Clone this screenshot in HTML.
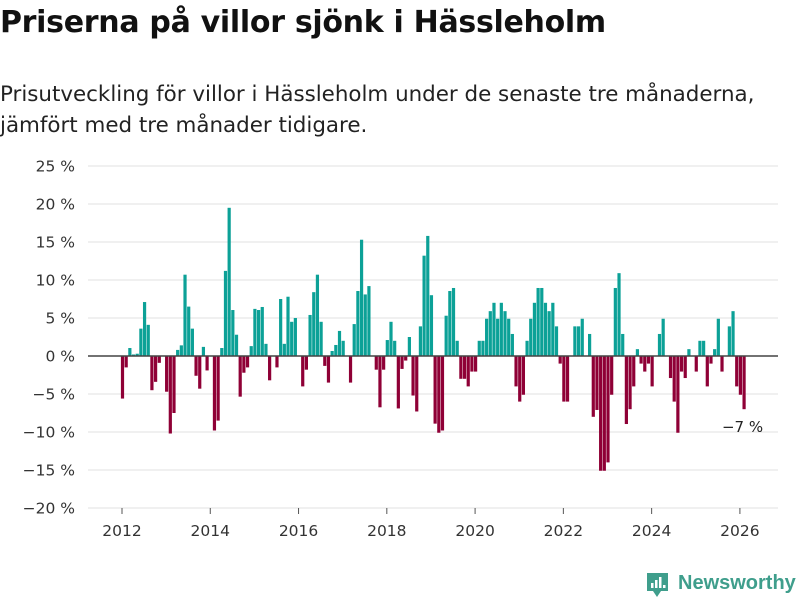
<!DOCTYPE html>
<html><head><meta charset="utf-8">
<style>
body{margin:0;width:800px;height:600px;background:#fff;font-family:"Liberation Sans",sans-serif;overflow:hidden;position:relative}
h1{position:absolute;left:0;top:5px;margin:0;font-family:"DejaVu Sans",sans-serif;font-size:30px;font-weight:bold;color:#111;letter-spacing:-0.3px}
.sub{position:absolute;left:0;top:79px;margin:0;font-family:"DejaVu Sans",sans-serif;font-size:21.4px;line-height:31px;color:#222}
svg{position:absolute;left:0;top:0}
</style></head>
<body>
<h1>Priserna på villor sjönk i Hässleholm</h1>
<p class="sub">Prisutveckling för villor i Hässleholm under de senaste tre månaderna,<br>jämfört med tre månader tidigare.</p>
<svg id="chart" width="800" height="600"></svg>
<script>
const startYear = 2012;
const values = [-5.6,-1.5,1.05,0.2,0.3,3.6,7.1,4.1,-4.5,-3.4,-0.9,0,-4.7,-10.2,-7.5,0.8,1.4,10.7,6.5,3.6,-2.6,-4.3,1.2,-1.9,0,-9.8,-8.5,1.05,11.2,19.5,6.05,2.8,-5.35,-2.2,-1.5,1.3,6.2,6.05,6.45,1.6,-3.2,0,-1.5,7.5,1.6,7.8,4.5,5.0,0,-4.0,-1.8,5.4,8.4,10.7,4.5,-1.3,-3.5,0.66,1.45,3.3,2.0,0,-3.5,4.2,8.55,15.3,8.1,9.2,0,-1.8,-6.75,-1.8,2.1,4.5,2.0,-6.9,-1.7,-0.6,2.5,-5.2,-7.3,3.9,13.2,15.8,8.0,-8.9,-10.1,-9.8,5.3,8.55,8.95,2.0,-3.0,-3.0,-4.0,-2.05,-2.05,2.0,2.0,4.9,5.9,7.0,4.9,7.0,5.9,4.9,2.9,-4.0,-6.0,-5.1,2.0,4.9,7.0,8.95,8.95,7.0,5.9,7.0,3.9,-1.0,-6.0,-6.0,0,3.9,3.9,4.9,0,2.9,-8.0,-7.1,-15.1,-15.1,-14.0,-5.1,8.95,10.9,2.9,-8.95,-7.0,-4.0,0.9,-1.0,-2.05,-1.0,-4.0,0,2.9,4.9,0,-2.9,-6.0,-10.1,-2.05,-2.9,0.9,0,-2.05,2.0,2.0,-4.0,-1.0,0.9,4.9,-2.05,0,3.9,5.9,-4.0,-5.1,-7.0];
const yTicks = [25,20,15,10,5,0,-5,-10,-15,-20];
const xTickYears = [2012,2014,2016,2018,2020,2022,2024,2026];
const lastLabel = "−7 %";

const NS="http://www.w3.org/2000/svg";
const svg=document.getElementById('chart');
const y0px=356, pxPer=7.6;
const y=v=>y0px-v*pxPer;
const x0=122.5, step=3.678;
const xIdx=i=>x0+i*step;
const xYear=yr=>x0-0.5+(yr-startYear)*12*step;
function mk(t,a){const e=document.createElementNS(NS,t);for(const k in a)e.setAttribute(k,a[k]);svg.appendChild(e);return e;}

yTicks.forEach(t=>{
  const g=mk('line',{x1:88,x2:778,y1:y(t),y2:y(t),stroke:'#e0e0e0','stroke-width':1});
  
  
  const l=mk('text',{x:75,y:y(t)+5.5,'text-anchor':'end','font-size':15.5,fill:'#333','font-family':'DejaVu Sans, sans-serif'});
  l.textContent=(t<0?'−'+(-t):t)+' %';
  
  
});
values.forEach((v,i)=>{
  if(v===0)return;
  const top=Math.min(y(v),y0px),h=Math.abs(y(v)-y0px);
  const b=mk('rect',{x:xIdx(i)-1.6,y:top,width:3.2,height:h,fill:v>0?'#0ca197':'#8f0036'});
  
  
});
const z=mk('line',{x1:88,x2:778,y1:y0px,y2:y0px,stroke:'#444','stroke-width':1.6});


xTickYears.forEach(yr=>{
  const xx=xYear(yr);
  const tk=mk('line',{x1:xx,x2:xx,y1:508,y2:514,stroke:'#555','stroke-width':1});
  
  
  const l=mk('text',{x:xx,y:536,'text-anchor':'middle','font-size':15.5,fill:'#333','font-family':'DejaVu Sans, sans-serif'});
  l.textContent=yr;
  
  
});
const li=values.length-1;
const an=mk('text',{x:xIdx(li)+19,y:y(values[li])+23,'text-anchor':'end','font-size':15,fill:'#222','font-family':'DejaVu Sans, sans-serif'});
an.textContent=lastLabel;


</script>
<div style="position:absolute;left:645px;top:571px;width:155px;height:28px">
<svg width="28" height="28" style="position:absolute;left:0;top:0">
<path d="M2 2h21v18h-7l-4 6-4-6H2z" fill="#3f9e8c"/>
<rect x="6" y="12" width="2.5" height="5" fill="#fff"/><rect x="10" y="9" width="2.5" height="8" fill="#fff"/><rect x="14" y="6" width="2.5" height="11" fill="#fff"/><rect x="18" y="14" width="2.5" height="3" fill="#fff"/>
</svg>
<span style="position:absolute;left:33px;top:1px;font-size:20px;font-weight:bold;color:#3f9e8c;font-family:'Liberation Sans',sans-serif">Newsworthy</span>
</div>
</body></html>
